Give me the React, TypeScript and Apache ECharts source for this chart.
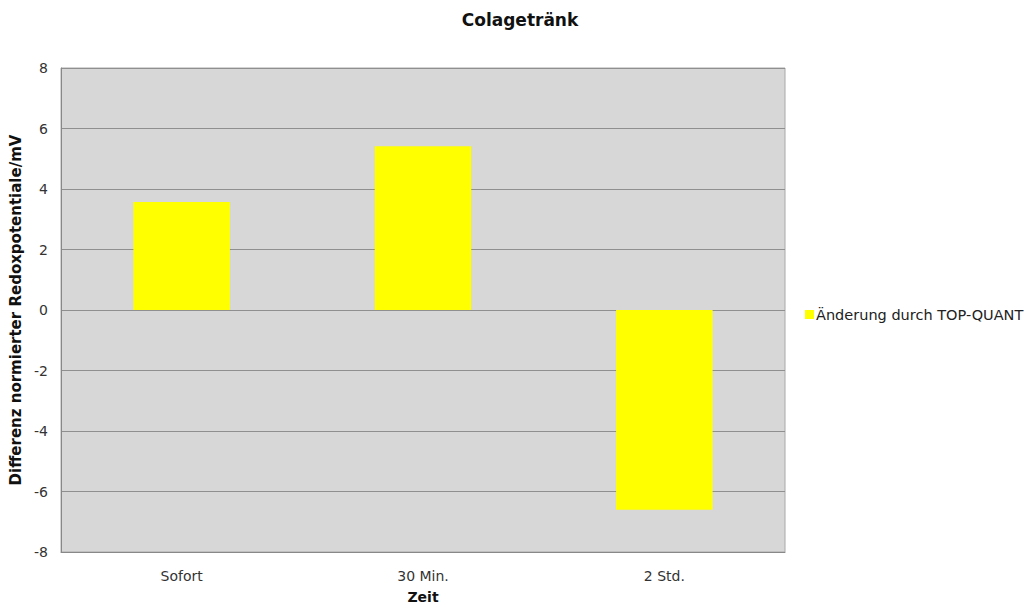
import React, { useEffect, useRef } from "react";
import * as echarts from "echarts";

const categories = ["Sofort", "30 Min.", "2 Std."];
const seriesName = "Änderung durch TOP-QUANT";
const values = [3.57, 5.41, -6.6];
const yTicks = [-8, -6, -4, -2, 0, 2, 4, 6, 8];

const FONT = "DejaVu Sans, Verdana, sans-serif";

export default function App() {
  const ref = useRef<HTMLDivElement>(null);

  useEffect(() => {
    if (!ref.current) return;
    const chart = echarts.init(ref.current, undefined, { renderer: "svg" });
    chart.setOption({
      animation: false,
      backgroundColor: "#ffffff",
      title: {
        text: "Colagetränk",
        left: 515,
        top: 6,
        textAlign: "center",
        textStyle: { fontFamily: FONT, fontSize: 17, fontWeight: "bold", color: "#111" },
      },
      legend: {
        data: [seriesName],
        orient: "vertical",
        left: 800,
        top: 302,
        itemWidth: 9,
        itemHeight: 9,
        itemGap: 4,
        icon: "rect",
        textStyle: { fontFamily: FONT, fontSize: 14.5, color: "#222", padding: [0, 0, 0, -3] },
      },
      grid: {
        left: 61,
        right: 246,
        top: 68,
        bottom: 57,
        show: true,
        backgroundColor: "#d7d7d7",
        borderColor: "#a8a8a8",
        borderWidth: 1,
      },
      xAxis: {
        type: "category",
        data: categories,
        name: "Zeit",
        nameLocation: "middle",
        nameGap: 38,
        nameTextStyle: { fontFamily: FONT, fontSize: 14, fontWeight: "bold", color: "#111" },
        axisLine: { show: true, onZero: false, lineStyle: { color: "#888" } },
        axisTick: { show: false },
        axisLabel: { fontFamily: FONT, fontSize: 14, color: "#333", margin: 17 },
      },
      yAxis: {
        type: "value",
        min: yTicks[0],
        max: yTicks[yTicks.length - 1],
        interval: 2,
        name: "Differenz normierter Redoxpotentiale/mV",
        nameLocation: "middle",
        nameGap: 34,
        nameTextStyle: { fontFamily: FONT, fontSize: 15, fontWeight: "bold", color: "#111" },
        axisLine: { show: true, lineStyle: { color: "#888" } },
        axisTick: { show: false },
        axisLabel: { fontFamily: FONT, fontSize: 14, color: "#333", margin: 13 },
        splitLine: { show: true, lineStyle: { color: "#8f8f8f", width: 1 } },
      },
      series: [
        {
          name: seriesName,
          type: "bar",
          data: values,
          barWidth: "40%",
          itemStyle: { color: "#ffff00" },
        },
      ],
    });
    return () => chart.dispose();
  }, []);

  return <div ref={ref} style={{ width: 1031, height: 609, position: "absolute", left: 0, top: 0 }} />;
}
